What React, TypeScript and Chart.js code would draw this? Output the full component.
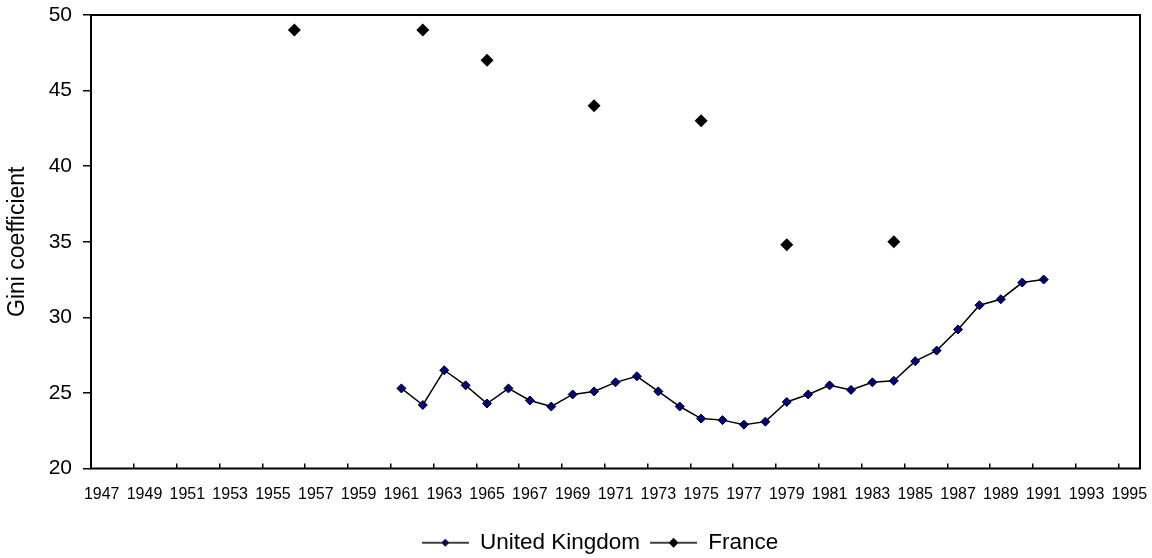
import React, { useEffect, useRef } from "react";
import { Chart, registerables } from "chart.js";

Chart.register(...registerables);

// Category axis: one slot per year, labels shown every other year
const years: number[] = [];
for (let y = 1947; y <= 1995; y++) years.push(y);

// United Kingdom, annual Gini coefficient
const ukYears = [
  1961, 1962, 1963, 1964, 1965, 1966, 1967, 1968, 1969, 1970, 1971, 1972, 1973, 1974, 1975, 1976,
  1977, 1978, 1979, 1980, 1981, 1982, 1983, 1984, 1985, 1986, 1987, 1988, 1989, 1990, 1991,
];
const ukValues = [
  25.3, 24.2, 26.5, 25.5, 24.3, 25.3, 24.5, 24.1, 24.9, 25.1, 25.7, 26.1, 25.1, 24.1, 23.3, 23.2,
  22.9, 23.1, 24.4, 24.9, 25.5, 25.2, 25.7, 25.8, 27.1, 27.8, 29.2, 30.8, 31.2, 32.3, 32.5,
];

// France, survey years only
const frYears = [1956, 1962, 1965, 1970, 1975, 1979, 1984];
const frValues = [49, 49, 47, 44, 43, 34.8, 35];

const yTicks = [20, 25, 30, 35, 40, 45, 50];

const FONT = "'Liberation Sans', Arial, Helvetica, sans-serif";

function alignToYears(ys: number[], vs: number[]): (number | null)[] {
  return years.map((y) => {
    const i = ys.indexOf(y);
    return i >= 0 ? vs[i] : null;
  });
}

// Legend swatch: a short line with a diamond marker in the middle
function legendIcon(fill: string, r: number): HTMLCanvasElement {
  const c = document.createElement("canvas");
  c.width = 47;
  c.height = 14;
  const g = c.getContext("2d")!;
  g.strokeStyle = "#000";
  g.lineWidth = 1.5;
  g.beginPath();
  g.moveTo(0, 7);
  g.lineTo(47, 7);
  g.stroke();
  g.beginPath();
  g.moveTo(23.5 - r, 7);
  g.lineTo(23.5, 7 - r);
  g.lineTo(23.5 + r, 7);
  g.lineTo(23.5, 7 + r);
  g.closePath();
  g.fillStyle = fill;
  g.fill();
  g.lineWidth = 1;
  g.strokeStyle = "#000";
  g.stroke();
  return c;
}

// Box around the plot area
const framePlugin = {
  id: "plotFrame",
  beforeDatasetsDraw(chart: any) {
    const { ctx, chartArea } = chart;
    ctx.save();
    ctx.strokeStyle = "#000";
    ctx.lineWidth = 2;
    ctx.strokeRect(chartArea.left, chartArea.top, chartArea.right - chartArea.left, chartArea.bottom - chartArea.top);
    ctx.restore();
  },
};

// Nudge the legend row a little to the right of the canvas centre
const legendShiftPlugin = {
  id: "legendShift",
  afterLayout(chart: any) {
    const lg = chart.legend;
    if (lg) {
      lg.left += 30;
      lg.right += 30;
    }
  },
};

export default function App() {
  const canvasRef = useRef<HTMLCanvasElement | null>(null);

  useEffect(() => {
    if (!canvasRef.current) return;
    Chart.defaults.color = "#000";
    const icons = [legendIcon("#000080", 3.5), legendIcon("#000", 4.5)];

    const chart = new Chart(canvasRef.current, {
      type: "line",
      data: {
        labels: years.map(String),
        datasets: [
          {
            label: "United Kingdom",
            data: alignToYears(ukYears, ukValues),
            borderColor: "#000",
            borderWidth: 1.5,
            pointStyle: "rectRot",
            pointRadius: 4.5,
            pointBackgroundColor: "#000080",
            pointBorderColor: "#000",
            pointBorderWidth: 1,
            spanGaps: false,
            tension: 0,
          },
          {
            label: "France",
            data: alignToYears(frYears, frValues),
            showLine: false,
            borderColor: "#000",
            pointStyle: "rectRot",
            pointRadius: 6.5,
            pointBackgroundColor: "#000",
            pointBorderColor: "#000",
            pointBorderWidth: 0,
          },
        ],
      },
      options: {
        animation: false,
        responsive: true,
        maintainAspectRatio: false,
        layout: { padding: { left: 0, right: 12, top: 15, bottom: -6 } },
        plugins: {
          tooltip: { enabled: false },
          legend: {
            position: "bottom",
            labels: {
              usePointStyle: true,
              pointStyleWidth: 47,
              padding: 10,
              font: { family: FONT, size: 22.5 },
              color: "#000",
              generateLabels: (ch: any) =>
                ch.data.datasets.map((ds: any, i: number) => ({
                  text: ds.label,
                  pointStyle: icons[i],
                  datasetIndex: i,
                  hidden: false,
                  lineWidth: 0,
                  fillStyle: "transparent",
                  strokeStyle: "transparent",
                  fontColor: "#000",
                })),
            },
          },
        },
        scales: {
          x: {
            type: "category",
            offset: true,
            afterFit: (s: any) => {
              s.height = 53;
              s.paddingLeft = 0;
              s.paddingRight = 0;
            },
            border: { display: false },
            grid: {
              offset: true,
              drawOnChartArea: false,
              tickLength: -5,
              lineWidth: 1.5,
              color: (ctx: any) => (ctx.index % 2 === 0 ? "#000" : "rgba(0,0,0,0)"),
            },
            ticks: {
              autoSkip: false,
              maxRotation: 0,
              minRotation: 0,
              padding: 21,
              font: { family: FONT, size: 16 },
              color: "#000",
              callback: (_v: any, i: number) => (i % 2 === 0 ? years[i] : ""),
            },
          },
          y: {
            min: yTicks[0],
            max: yTicks[yTicks.length - 1],
            afterFit: (s: any) => {
              s.width = 91;
              s.paddingTop = 0;
              s.paddingBottom = 0;
            },
            afterBuildTicks: (s: any) => {
              s.ticks = yTicks.map((v) => ({ value: v }));
            },
            border: { display: false },
            grid: {
              drawOnChartArea: false,
              tickLength: 8,
              lineWidth: 1.5,
              color: "#000",
            },
            ticks: {
              padding: 11,
              font: { family: FONT, size: 21 },
              color: "#000",
            },
            title: {
              display: true,
              text: "Gini coefficient",
              font: { family: FONT, size: 23 },
              color: "#000",
              padding: { top: 4, bottom: 4 },
            },
          },
        },
      },
      plugins: [framePlugin, legendShiftPlugin],
    });

    return () => chart.destroy();
  }, []);

  return (
    <div style={{ position: "absolute", left: 0, top: 0, width: 1152, height: 558, background: "#fff" }}>
      <canvas ref={canvasRef} />
    </div>
  );
}
